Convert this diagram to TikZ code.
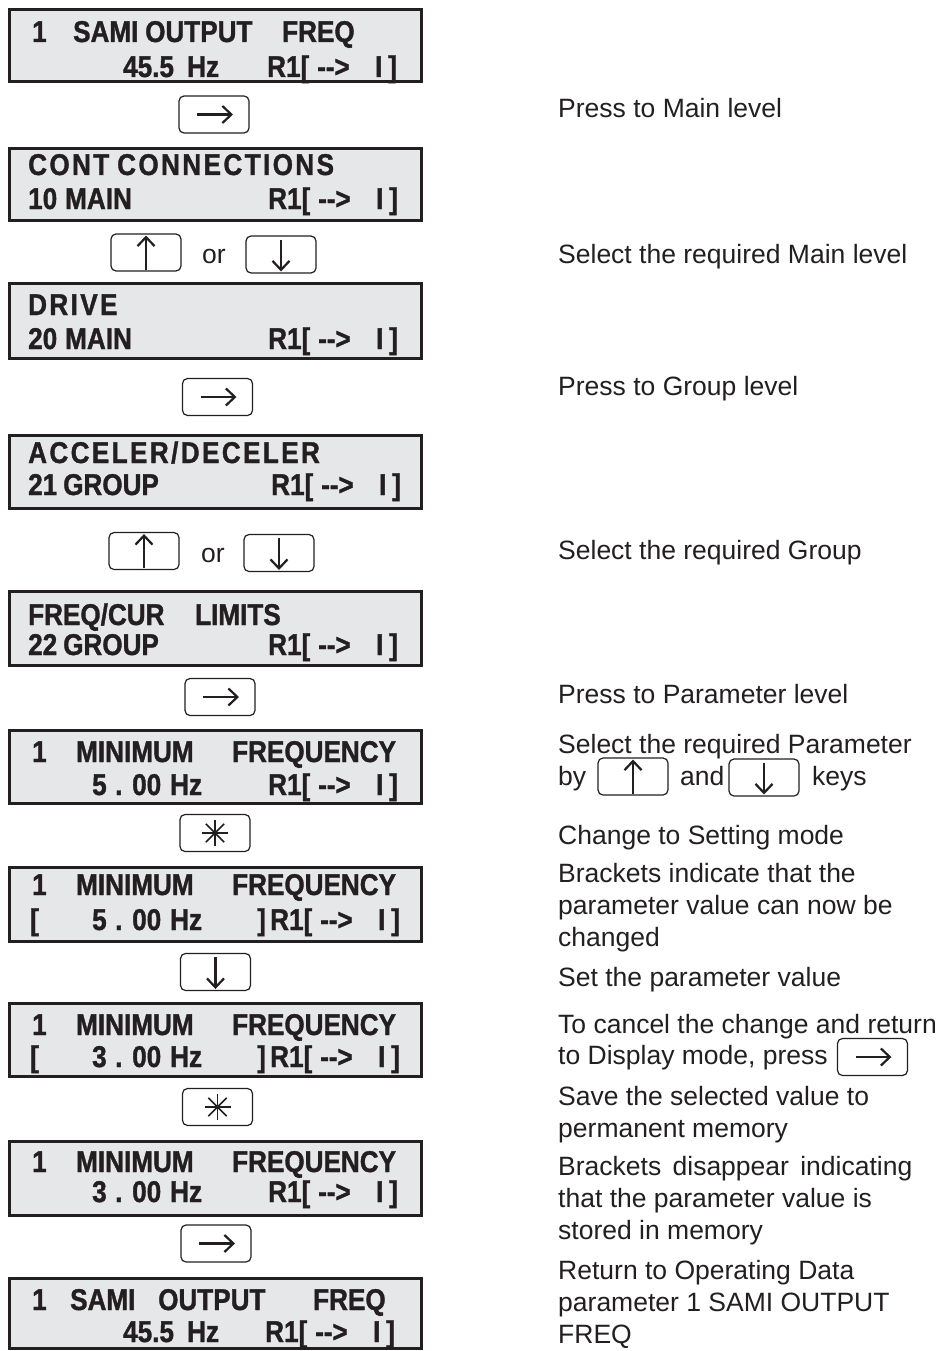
\documentclass[tikz,border=0pt]{standalone}
\usepackage{fontspec}
\usetikzlibrary{arrows.meta}
\newfontfamily\dispfam[FakeStretch=0.87,FakeBold=1.2]{Liberation Sans}
\newfontfamily\dispsp[FakeStretch=0.87,FakeBold=1.2,LetterSpace=8]{Liberation Sans}
\newfontfamily\rfont{Liberation Sans}
\definecolor{ink}{RGB}{35,31,32}
\definecolor{lcd}{RGB}{230,231,232}
\newcommand\wbox[2]{\makebox[#1pt][l]{#2}}
\newcommand\arr{-\kern0pt-\kern0pt>}
\newcommand\tailtxt{\wbox{50}{R1[}\wbox{58}{\arr}\wbox{13}{I}]}
\newcommand\keyR[1]{\draw[karrow] ([xshift=-17pt]#1.center) -- ([xshift=19pt]#1.center);}
\newcommand\keyU[1]{\draw[karrow] ([yshift=-17pt]#1.center) -- ([yshift=17pt]#1.center);}
\newcommand\keyD[1]{\draw[karrow] ([yshift=15pt]#1.center) -- ([yshift=-17pt]#1.center);}
\newcommand\keyS[1]{\foreach \a in {0,45,90,135}{\draw[ink,line width=1.5pt] ([shift={(\a:13pt)}]#1.center) -- ([shift={(\a+180:13pt)}]#1.center);}}
\tikzset{
  disp/.style={draw=ink, line width=3pt, fill=lcd, minimum width=412pt, inner sep=0pt, outer sep=0pt},
  dtxt/.style={anchor=base west, inner sep=0pt, text=ink, font=\dispfam\bfseries\fontsize{30}{30}\selectfont},
  dsp/.style={dtxt, font=\dispsp\bfseries\fontsize{30}{30}\selectfont},
  keyb/.style={draw=ink, line width=1.2pt, rounded corners=5pt, fill=white, minimum width=70pt, minimum height=37pt, inner sep=0pt},
  karrow/.style={draw=ink, line width=2.2pt, -{Straight Barb[length=9pt,width=17pt]}},
  rtxt/.style={anchor=base west, inner sep=0pt, text=ink, font=\rfont\fontsize{26.5}{26.5}\selectfont},
}
\begin{document}
\begin{tikzpicture}[x=1pt,y=-1pt]
\useasboundingbox[fill=white] (0,0) rectangle (945,1351);
% ---------- display boxes ----------
\node[disp, minimum height=72pt] (d1) at (215.5,45.5) {};
\node[disp, minimum height=72pt] (d2) at (215.5,184.5) {};
\node[disp, minimum height=75pt] (d3) at (215.5,321) {};
\node[disp, minimum height=73pt] (d4) at (215.5,472) {};
\node[disp, minimum height=74pt] (d5) at (215.5,628.5) {};
\node[disp, minimum height=73pt] (d6) at (215.5,767) {};
\node[disp, minimum height=74pt] (d7) at (215.5,904.5) {};
\node[disp, minimum height=73pt] (d8) at (215.5,1040) {};
\node[disp, minimum height=74pt] (d9) at (215.5,1178.5) {};
\node[disp, minimum height=70pt] (d10) at (215.5,1313.5) {};
% d1
\node[dtxt] (d1a) at (32,42) {\wbox{41}{1}\wbox{72}{SAMI}\wbox{137}{OUTPUT}FREQ};
\node[dtxt] (d1b) at (123,77) {\wbox{64}{45.5}Hz};
\node[dtxt] (d1c) at (267,77) {\tailtxt};
% d2
\node[dsp] (d2a) at (28,175) {\wbox{89}{CONT}CONNECTIONS};
\node[dtxt] (d2b) at (28,209) {\wbox{37}{10}MAIN};
\node[dtxt] (d2c) at (268,209) {\tailtxt};
% d3
\node[dsp] (d3a) at (28,315) {DRIVE};
\node[dtxt] (d3b) at (28,349) {\wbox{37}{20}MAIN};
\node[dtxt] (d3c) at (268,349) {\tailtxt};
% d4
\node[dsp] (d4a) at (28,463) {ACCELER/DECELER};
\node[dtxt] (d4b) at (28,495) {\wbox{35}{21}GROUP};
\node[dtxt] (d4c) at (271,495) {\tailtxt};
% d5
\node[dtxt] (d5a) at (28,625) {\wbox{167}{FREQ/CUR}LIMITS};
\node[dtxt] (d5b) at (28,655) {\wbox{35}{22}GROUP};
\node[dtxt] (d5c) at (268,655) {\tailtxt};
% d6
\node[dtxt] (d6a) at (32,762) {\wbox{44}{1}\wbox{156}{MINIMUM}FREQUENCY};
\node[dtxt] (d6b) at (92,795) {\wbox{23}{5}\wbox{17}{.}\wbox{38}{00}Hz};
\node[dtxt] (d6c) at (268,795) {\tailtxt};
% d7
\node[dtxt] (d7a) at (32,895) {\wbox{44}{1}\wbox{156}{MINIMUM}FREQUENCY};
\node[dtxt] (d7b) at (30,930) {\wbox{62}{[}\wbox{23}{5}\wbox{17}{.}\wbox{38}{00}Hz};
\node[dtxt] (d7c) at (257,930) {\wbox{13}{]}\tailtxt};
% d8
\node[dtxt] (d8a) at (32,1035) {\wbox{44}{1}\wbox{156}{MINIMUM}FREQUENCY};
\node[dtxt] (d8b) at (30,1067) {\wbox{62}{[}\wbox{23}{3}\wbox{17}{.}\wbox{38}{00}Hz};
\node[dtxt] (d8c) at (257,1067) {\wbox{13}{]}\tailtxt};
% d9
\node[dtxt] (d9a) at (32,1172) {\wbox{44}{1}\wbox{156}{MINIMUM}FREQUENCY};
\node[dtxt] (d9b) at (92,1202) {\wbox{23}{3}\wbox{17}{.}\wbox{38}{00}Hz};
\node[dtxt] (d9c) at (268,1202) {\tailtxt};
% d10
\node[dtxt] (d10a) at (32,1310) {\wbox{38}{1}\wbox{88}{SAMI}\wbox{155}{OUTPUT}FREQ};
\node[dtxt] (d10b) at (123,1342) {\wbox{64}{45.5}Hz};
\node[dtxt] (d10c) at (265,1342) {\tailtxt};
% ---------- keys ----------
\node[keyb] (k1) at (214,114.5) {};   \keyR{k1}
\node[keyb] (k2) at (146,252.5) {};   \keyU{k2}
\node[rtxt, anchor=base] (or1) at (214,263) {or};
\node[keyb] (k3) at (281,254.5) {};   \keyD{k3}
\node[keyb] (k4) at (217.5,397) {};   \keyR{k4}
\node[keyb] (k5) at (144,551) {};     \keyU{k5}
\node[rtxt, anchor=base] (or2) at (213,562) {or};
\node[keyb] (k6) at (279,553) {};     \keyD{k6}
\node[keyb] (k7) at (220,697) {};     \keyR{k7}
\node[keyb] (k8) at (215,833) {};     \keyS{k8}
\node[keyb] (k9) at (215.5,972) {};   \keyD{k9}
\node[keyb] (k10) at (217.5,1107) {}; \keyS{k10}
\node[keyb] (k11) at (216,1243.5) {}; \keyR{k11}
% ---------- right column ----------
\node[rtxt] (r1) at (558,118) {Press to Main level};
\node[rtxt] (r2) at (558,263) {Select the required Main level};
\node[rtxt] (r3) at (558,395) {Press to Group level};
\node[rtxt] (r4) at (558,559) {Select the required Group};
\node[rtxt] (r5) at (558,703) {Press to Parameter level};
\node[rtxt] (r6) at (558,753) {Select the required Parameter};
\node[rtxt] (r7) at (558,785) {by};
\node[keyb] (k12) at (633,776.5) {};  \keyU{k12}
\node[rtxt] (r7b) at (680,785) {and};
\node[keyb] (k13) at (764,777.5) {};  \keyD{k13}
\node[rtxt] (r7c) at (812,785) {keys};
\node[rtxt] (r8) at (558,844) {Change to Setting mode};
\node[rtxt] (r9) at (558,882) {Brackets indicate that the};
\node[rtxt] (r10) at (558,914) {parameter value can now be};
\node[rtxt] (r11) at (558,946) {changed};
\node[rtxt] (r12) at (558,986) {Set the parameter value};
\node[rtxt] (r13) at (558,1033) {To cancel the change and return};
\node[rtxt] (r14) at (558,1064) {to Display mode, press};
\node[keyb] (k14) at (872.5,1057) {}; \keyR{k14}
\node[rtxt] (r15) at (558,1105) {Save the selected value to};
\node[rtxt] (r16) at (558,1137) {permanent memory};
\node[rtxt] (r17) at (558,1175) {Brackets\hspace{4pt} disappear\hspace{4pt} indicating};
\node[rtxt] (r18) at (558,1207) {that the parameter value is};
\node[rtxt] (r19) at (558,1239) {stored in memory};
\node[rtxt] (r20) at (558,1279) {Return to Operating Data};
\node[rtxt] (r21) at (558,1311) {parameter 1 SAMI OUTPUT};
\node[rtxt] (r22) at (558,1343) {FREQ};
\end{tikzpicture}
\end{document}
